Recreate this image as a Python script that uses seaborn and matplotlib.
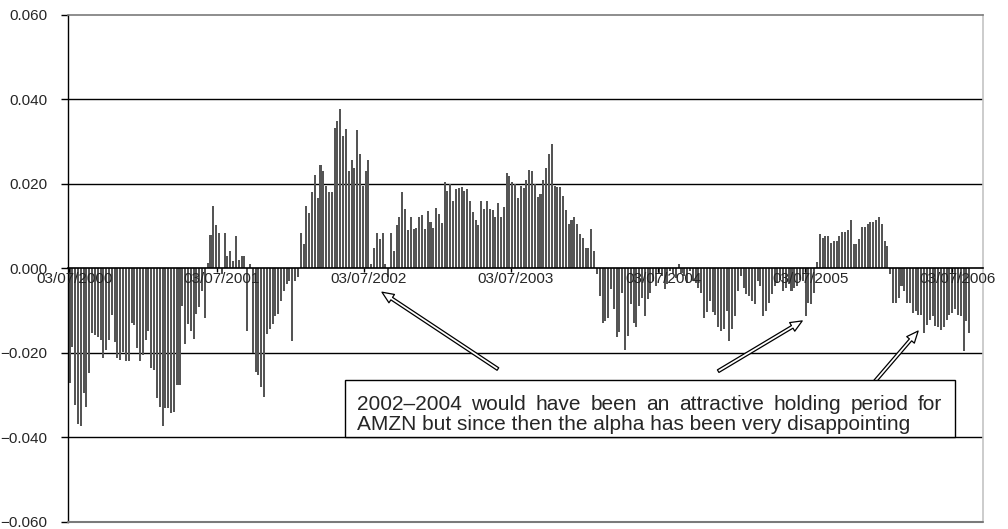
"""
Weekly alpha of AMZN, 03/07/2000 - mid 2006, as a column chart
with an annotation box and three arrows.
"""
import numpy as np
import pandas as pd
import matplotlib
matplotlib.use("Agg")
import matplotlib.pyplot as plt
import matplotlib.transforms as mtransforms
import seaborn as sns
from matplotlib.patches import Rectangle
from matplotlib.ticker import FuncFormatter

# ----------------------------------------------------------------------
# Data: one bar per week
# ----------------------------------------------------------------------
START_DATE = "2000-03-07"

alpha_2000 = [
    -0.0273, -0.0186, -0.0324, -0.0370, -0.0373, -0.0296, -0.0330, -0.0249,
    -0.0154, -0.0158, -0.0162, -0.0170, -0.0212, -0.0194, -0.0170, -0.0111,
    -0.0174, -0.0213, -0.0217, -0.0198, -0.0221, -0.0221, -0.0130, -0.0134,
    -0.0190, -0.0221, -0.0206, -0.0170, -0.0150, -0.0237, -0.0241, -0.0308,
    -0.0328, -0.0373, -0.0332, -0.0332, -0.0344, -0.0340, -0.0277, -0.0277,
]
alpha_2001 = [
    -0.0089, -0.0180, -0.0133, -0.0148, -0.0168, -0.0109, -0.0093, -0.0054,
    -0.0117, 0.0013, 0.0079, 0.0146, 0.0103, 0.0083, -0.0015, 0.0083,
    0.0028, 0.0040, 0.0016, 0.0075, 0.0020, 0.0028, 0.0028, -0.0148,
    0.0010, -0.0200, -0.0246, -0.0254, -0.0282, -0.0305, -0.0156, -0.0144,
    -0.0133, -0.0113, -0.0109, -0.0078, -0.0054, -0.0038, -0.0030, -0.0172,
    -0.0030, -0.0020,
]
alpha_2002 = [
    0.0083, 0.0056, 0.0147, 0.0130, 0.0180, 0.0220, 0.0167, 0.0244,
    0.0230, 0.0195, 0.0180, 0.0180, 0.0332, 0.0348, 0.0376, 0.0313,
    0.0330, 0.0230, 0.0257, 0.0237, 0.0327, 0.0270, 0.0195, 0.0230,
    0.0257, 0.0010, 0.0048, 0.0083, 0.0070, 0.0083, 0.0010, -0.0020,
    0.0083, 0.0040, 0.0103, 0.0120, 0.0180, 0.0140, 0.0090, 0.0120,
    0.0092,
]
alpha_2003a = [
    0.0096, 0.0120, 0.0126, 0.0092, 0.0136, 0.0110, 0.0094, 0.0142,
    0.0128, 0.0106, 0.0203, 0.0183, 0.0198, 0.0160, 0.0187, 0.0190,
    0.0193, 0.0183, 0.0187, 0.0160, 0.0134, 0.0113, 0.0102, 0.0160,
    0.0140, 0.0160, 0.0140, 0.0138, 0.0122, 0.0155, 0.0122, 0.0144,
    0.0225, 0.0219, 0.0203, 0.0200, 0.0167, 0.0195, 0.0190,
]
alpha_2003b = [
    0.0209, 0.0233, 0.0229, 0.0199, 0.0169, 0.0175, 0.0209, 0.0237,
    0.0270, 0.0294, 0.0195, 0.0191, 0.0191, 0.0171, 0.0138, 0.0104,
    0.0113, 0.0121, 0.0104, 0.0080, 0.0072, 0.0048, 0.0048, 0.0092,
    0.0040,
]
alpha_2004 = [
    -0.0015, -0.0066, -0.0130, -0.0125, -0.0117, -0.0050, -0.0097, -0.0164,
    -0.0152, -0.0058, -0.0195, -0.0160, -0.0085, -0.0129, -0.0140, -0.0090,
    -0.0070, -0.0113, -0.0074, -0.0058, -0.0030, -0.0042, -0.0011, -0.0019,
    -0.0050, -0.0038, -0.0007, -0.0015, -0.0023, 0.0010, -0.0011, -0.0019,
    -0.0035, -0.0007, -0.0030, -0.0035, -0.0046, -0.0058, -0.0117, -0.0105,
    -0.0078,
]
alpha_2005a = [
    -0.0105, -0.0110, -0.0140, -0.0148, -0.0145, -0.0101, -0.0172, -0.0145,
    -0.0113, -0.0054, -0.0019, -0.0046, -0.0062, -0.0066, -0.0078, -0.0085,
    -0.0030, -0.0042, -0.0113, -0.0101, -0.0082, -0.0062, -0.0042, -0.0035,
    -0.0027, -0.0054, -0.0046, -0.0038, -0.0054, -0.0046, -0.0042, -0.0027,
    -0.0030, -0.0113, -0.0082, -0.0085, -0.0060,
]
alpha_2005b = [
    0.0014, 0.0080, 0.0072, 0.0077, 0.0075, 0.0060, 0.0064, 0.0064,
    0.0077, 0.0085, 0.0085, 0.0090, 0.0114, 0.0058, 0.0056, 0.0068,
    0.0097, 0.0097, 0.0104, 0.0109, 0.0109, 0.0114, 0.0122, 0.0104,
    0.0064, 0.0052,
]
alpha_2006 = [
    -0.0015, -0.0082, -0.0082, -0.0070, -0.0043, -0.0055, -0.0082, -0.0082,
    -0.0106, -0.0102, -0.0110, -0.0110, -0.0153, -0.0134, -0.0122, -0.0114,
    -0.0138, -0.0140, -0.0146, -0.0140, -0.0122, -0.0110, -0.0106, -0.0098,
    -0.0110, -0.0114, -0.0197, -0.0125, -0.0153,
]

tick_years = [2000, 2001, 2002, 2003, 2004, 2005, 2006]
y_ticks = [-0.06, -0.04, -0.02, 0.0, 0.02, 0.04, 0.06]

note_lines = [
    "2002\u20132004 would have been an attractive holding period for",
    "AMZN but since then the alpha has been very disappointing",
]

# ----------------------------------------------------------------------
# Build the table
# ----------------------------------------------------------------------
alpha = (alpha_2000 + alpha_2001 + alpha_2002 + alpha_2003a + alpha_2003b
         + alpha_2004 + alpha_2005a + alpha_2005b + alpha_2006)
df = pd.DataFrame({"week": np.arange(len(alpha)), "alpha": alpha})

start = pd.Timestamp(START_DATE)
tick_dates = [pd.Timestamp(f"{y}-03-07") for y in tick_years]
tick_pos = [(d - start).days / 7 for d in tick_dates]
tick_lab = [d.strftime("%m/%d/%Y") for d in tick_dates]

# ----------------------------------------------------------------------
# Plot
# ----------------------------------------------------------------------
sns.set_theme(style="white")
plt.rcParams["font.family"] = ["Liberation Sans", "DejaVu Sans"]
plt.rcParams["axes.unicode_minus"] = True

W, H = 1008, 529
fig = plt.figure(figsize=(W / 100, H / 100), dpi=100)
ax = fig.add_axes([68 / W, 1 - 521.5 / H, 915 / W, 506.8 / H])

sns.barplot(data=df, x="week", y="alpha", native_scale=True, color="#555555",
            saturation=1, width=0.72, linewidth=0, errorbar=None, ax=ax)

ax.set_xlim(-0.53, 323.9)
ax.set_ylim(-0.06, 0.06)
ax.set_xlabel("")
ax.set_ylabel("")

# horizontal gridlines behind the bars
for y in [-0.04, -0.02, 0.02, 0.04]:
    ax.axhline(y, color="black", lw=1.0, zorder=0.5)

# frame: black left axis, grey border elsewhere, x axis crossing at zero
ax.spines["left"].set_color("black")
ax.spines["left"].set_linewidth(1.0)
ax.spines["top"].set_color("#7a7a7a")
ax.spines["top"].set_linewidth(1.2)
ax.spines["right"].set_color("#c4c4c4")
ax.spines["right"].set_linewidth(1.2)
ax.spines["bottom"].set_position(("data", 0))
ax.spines["bottom"].set_color("black")
ax.spines["bottom"].set_linewidth(1.2)
ax.spines["bottom"].set_zorder(3)
ax.axhline(-0.06, color="#7a7a7a", lw=1.5, zorder=3, clip_on=False)

ax.set_yticks(y_ticks)
ax.yaxis.set_major_formatter(FuncFormatter(
    lambda v, _: f"{0 if abs(v) < 1e-9 else v:.3f}".replace("-", "\u2212")))
ax.tick_params(axis="y", direction="out", length=5, width=1, color="black",
               labelsize=11, pad=10, left=True)

ax.set_xticks(tick_pos)
ax.set_xticklabels(tick_lab)
ax.tick_params(axis="x", direction="out", length=3, width=1, color="black",
               labelsize=11, pad=0, bottom=True)
ax.xaxis.set_zorder(4)
shift = mtransforms.ScaledTranslation(5 / 100, 0, fig.dpi_scale_trans)
for lab in ax.get_xticklabels():
    lab.set_transform(lab.get_transform() + shift)

# annotation box
box = Rectangle((0.3027, 0.1667), 0.6667, 0.1125, transform=ax.transAxes,
                facecolor="white", edgecolor="black", lw=1.0, zorder=6)
ax.add_patch(box)

# first line is justified between the box margins, second one left aligned
renderer = fig.canvas.get_renderer()
left_px, right_px = 357, 942
words = note_lines[0].split(" ")
word_txt = [fig.text(0, 1 - 405 / H, w, fontsize=15, va="center", ha="left",
                     zorder=7) for w in words]
widths = [t.get_window_extent(renderer).width for t in word_txt]
gap = (right_px - left_px - sum(widths)) / (len(words) - 1)
x = left_px
for t, w in zip(word_txt, widths):
    t.set_x(x / W)
    x += w + gap
fig.text(left_px / W, 1 - 424 / H, note_lines[1], fontsize=15, va="center",
         ha="left", zorder=7)

# arrows from the box to the points of interest
arrows = [((151.9, -0.0239), (110.8, -0.0057)),
          ((230.0, -0.0244), (259.8, -0.0125)),
          ((285.6, -0.0268), (300.9, -0.0149))]
for tail, head in arrows:
    ax.annotate("", xy=head, xytext=tail, xycoords="data",
                arrowprops=dict(arrowstyle="simple,head_length=0.7,head_width=0.6,tail_width=0.18",
                                fc="white", ec="black", lw=0.9, shrinkA=0, shrinkB=0),
                zorder=5)

fig.savefig("out.png", dpi=100)
plt.close(fig)
